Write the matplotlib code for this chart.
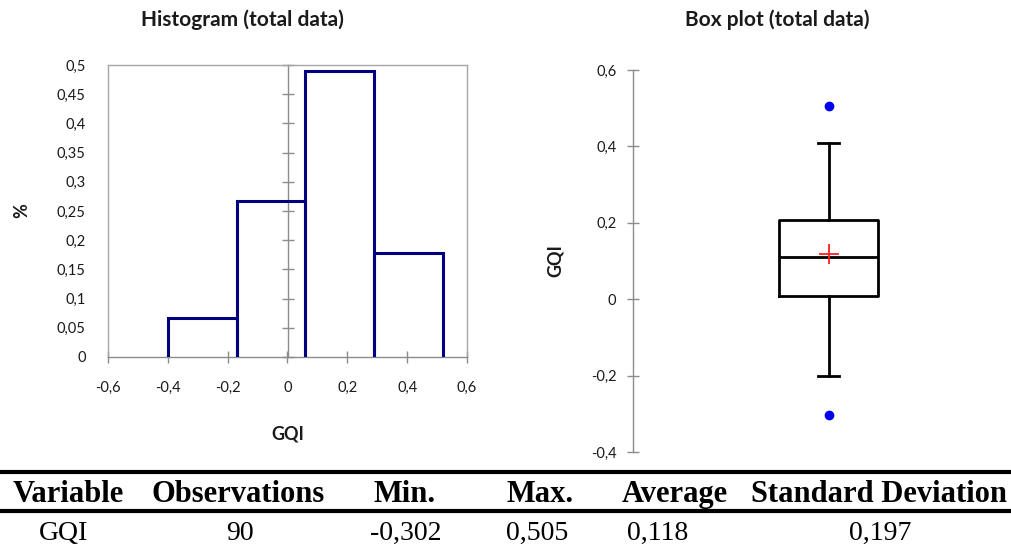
import matplotlib
matplotlib.use("Agg")
import matplotlib.pyplot as plt
from matplotlib.ticker import FuncFormatter
from matplotlib.lines import Line2D

# histogram (relative frequencies of GQI classes)
bin_edges = [-0.40, -0.17, 0.06, 0.29, 0.52]
rel_freq = [0.067, 0.267, 0.489, 0.178]

# box plot summary
box_q1 = 0.009
box_median = 0.110
box_q3 = 0.207
box_whislo = -0.200
box_whishi = 0.408
box_mean = 0.118
box_fliers = [-0.302, 0.505]

# summary table
table_headers = ["Variable", "Observations", "Min.", "Max.", "Average", "Standard Deviation"]
table_values = ["GQI", "90", "-0,302", "0,505", "0,118", "0,197"]

hist_xticks = [-0.6, -0.4, -0.2, 0, 0.2, 0.4, 0.6]
hist_yticks = [0, 0.05, 0.1, 0.15, 0.2, 0.25, 0.3, 0.35, 0.4, 0.45, 0.5]
box_yticks = [-0.4, -0.2, 0, 0.2, 0.4, 0.6]

FONT = "Lato"
FRAME = "#a6a6a6"
AXIS = "#8c8c8c"
TXT = "#1a1a1a"
NAVY = "#000080"


def comma_fmt(v, pos=None):
    v = round(v, 4) + 0.0
    return f"{v:g}".replace(".", ",")


W, H = 1012, 546
fig = plt.figure(figsize=(W / 100, H / 100), dpi=100)

# ---- Histogram
ax1 = fig.add_axes([108 / W, 1 - 357 / H, 359 / W, 292 / H])
for i, h in enumerate(rel_freq):
    ax1.stairs([h], bin_edges[i:i + 2], baseline=0, fill=False,
               edgecolor=NAVY, linewidth=2.2, zorder=3)
ax1.set_xlim(-0.6, 0.6)
ax1.set_ylim(0, 0.5)
for s in ax1.spines.values():
    s.set_color(FRAME)
    s.set_linewidth(1)
ax1.spines["bottom"].set_color(AXIS)
ax1.set_xticks(hist_xticks)
ax1.set_yticks(hist_yticks)
ax1.xaxis.set_major_formatter(FuncFormatter(comma_fmt))
ax1.yaxis.set_major_formatter(FuncFormatter(comma_fmt))
ax1.tick_params(axis="y", length=0, pad=16, labelsize=10.5, labelcolor=TXT)
ax1.tick_params(axis="x", direction="inout", length=8.5, width=1, color=AXIS,
                pad=13, labelsize=10.5, labelcolor=TXT)
for lab in ax1.get_xticklabels() + ax1.get_yticklabels():
    lab.set_fontfamily(FONT)

# vertical axis through zero with its own tick marks
sec = ax1.secondary_yaxis(0.5)
sec.set_yticks(hist_yticks)
sec.set_yticklabels([])
for s in sec.spines.values():
    s.set_color(AXIS)
    s.set_linewidth(1)
sec.tick_params(axis="y", direction="inout", length=8, width=1, color=AXIS)

ax1.set_xlabel("GQI", fontfamily=FONT, fontweight="bold", fontsize=13,
               labelpad=22, color=TXT)
ax1.set_ylabel("%", fontfamily=FONT, fontweight="bold", fontsize=13,
               labelpad=19, color=TXT)
fig.text(242 / W, 1 - 20 / H, "Histogram (total data)", ha="center", va="center",
         fontfamily=FONT, fontweight="bold", fontsize=15, color=TXT)

# ---- Box plot
ax2 = fig.add_axes([633 / W, 1 - 452 / H, 372 / W, 382 / H])
stats = [{
    "med": box_median, "q1": box_q1, "q3": box_q3,
    "whislo": box_whislo, "whishi": box_whishi,
    "mean": box_mean, "fliers": box_fliers,
}]
ax2.bxp(stats, positions=[1], widths=0.506, capwidths=0.107, showmeans=True,
        boxprops=dict(color="black", linewidth=2),
        whiskerprops=dict(color="black", linewidth=2),
        capprops=dict(color="black", linewidth=2),
        medianprops=dict(color="black", linewidth=2),
        meanprops=dict(marker="+", markeredgecolor="#ff2020", markersize=14,
                       markeredgewidth=1.3),
        flierprops=dict(marker="o", markerfacecolor="#0000ee",
                        markeredgecolor="#0000ee", markersize=6))
ax2.set_xlim(0, 1.9)
ax2.set_ylim(-0.4, 0.6)
for side in ["top", "right", "bottom"]:
    ax2.spines[side].set_visible(False)
ax2.spines["left"].set_color(AXIS)
ax2.spines["left"].set_linewidth(1)
ax2.set_xticks([])
ax2.set_yticks(box_yticks)
ax2.yaxis.set_major_formatter(FuncFormatter(comma_fmt))
ax2.tick_params(axis="y", direction="inout", length=8, width=1, color=AXIS,
                pad=8, labelsize=10.5, labelcolor=TXT)
for lab in ax2.get_yticklabels():
    lab.set_fontfamily(FONT)
ax2.set_ylabel("GQI", fontfamily=FONT, fontweight="bold", fontsize=13,
               labelpad=19, color=TXT)
fig.text(777 / W, 1 - 20 / H, "Box plot (total data)", ha="center", va="center",
         fontfamily=FONT, fontweight="bold", fontsize=15, color=TXT)

# ---- Summary table
header_x = [68, 238, 405, 540, 675, 879]
value_x = [64, 240, 406, 537, 658, 880]
for x, t in zip(header_x, table_headers):
    fig.text(x / W, 1 - 502 / H, t, ha="center", va="baseline",
             fontfamily="Liberation Serif", fontweight="bold", fontsize=22, color="black")
for x, t in zip(value_x, table_values):
    fig.text(x / W, 1 - 540 / H, t, ha="center", va="baseline",
             fontfamily="Liberation Serif", fontsize=20, color="black")
for y in [472, 510.5]:
    fig.add_artist(Line2D([0, 1], [1 - y / H, 1 - y / H], transform=fig.transFigure,
                          color="black", linewidth=3))

fig.savefig("out.png", dpi=100)
